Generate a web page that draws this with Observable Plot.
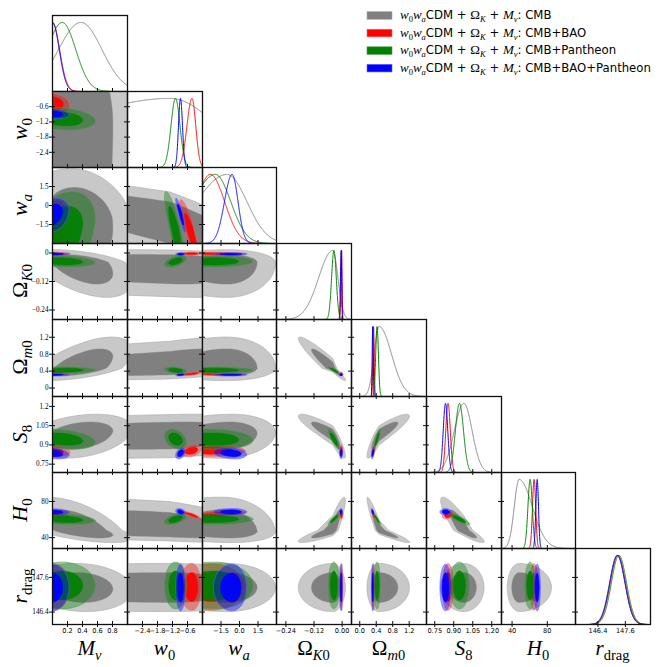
<!DOCTYPE html>
<html><head><meta charset="utf-8">
<script src="https://cdn.jsdelivr.net/npm/d3@7"></script>
<script src="https://cdn.jsdelivr.net/npm/@observablehq/plot@0.6"></script>
<style>
body{margin:0;background:#fff;}
#chart{position:relative;width:665px;height:667px;overflow:hidden;background:#fff;}
</style></head><body><div id="chart"></div>
<script>
// ---------------- data ----------------
const paramNames = ["Mnu","w0","wa","OmegaK0","Omegam0","S8","H0","rdrag"];
// axis ranges (columns use x, rows use y)
const xLo = [0, -3, -3, -0.28, -0.2, 0.685, 28, 145.42];
const xHi = [1, 0, 3, 0.04, 1.62, 1.277, 112, 148.7];
const yLo = [0, -3, -3, -0.28, -0.2, 0.685, 28, 145.97];
const yHi = [1, 0, 3, 0.04, 1.62, 1.277, 112, 148.6];
const tickValues = [[0.2,0.4,0.6,0.8],[-2.4,-1.8,-1.2,-0.6],[-1.5,0,1.5],[-0.24,-0.12,0],[0,0.4,0.8,1.2],[0.75,0.9,1.05,1.2],[40,80],[146.4,147.6]];
const xTickLabels = [["0.2","0.4","0.6","0.8"],["−2.4","−1.8","−1.2","−0.6"],["−1.5","0.0","1.5"],["−0.24","−0.12","0.00"],["0.0","0.4","0.8","1.2"],["0.75","0.90","1.05","1.20"],["40","80"],["146.4","147.6"]];
const yTickLabels = [null,["−2.4","−1.8","−1.2","−0.6"],["−1.5","0","1.5"],["−0.24","−0.12","0"],["0","0.4","0.8","1.2"],["0.75","0.9","1.05","1.2"],["40","80"],["146.4","147.6"]];

const datasetNames = ["CMB","CMB+BAO","CMB+Pantheon","CMB+BAO+Pantheon"];
// posterior summaries: peak, lower-side width, upper-side width (order of paramNames)
const cmbMean  = [0.38, -1.3, -1.0, -0.04, 0.47, 0.98, 48, 147.25];
const cmbSigLo = [0.30, 4.5, 2.5, 0.06, 0.12, 0.075, 5.5, 0.34];
const cmbSigHi = [0.28, 1.9, 1.6, 0.022, 0.30, 0.065, 15, 0.34];
const baoMean  = [0.0, -0.42, -2.36, -0.002, 0.335, 0.855, 65, 147.27];
const baoSigLo = [0.095, 0.2, 1.15, 0.003, 0.016, 0.018, 1.8, 0.33];
const baoSigHi = [0.095, 0.15, 1.15, 0.002, 0.016, 0.018, 1.8, 0.33];
const panMean  = [0.13, -1.08, -1.96, -0.035, 0.42, 0.945, 60.5, 147.32];
const panSigLo = [0.2, 0.18, 1.8, 0.01, 0.033, 0.032, 2.5, 0.33];
const panSigHi = [0.18, 0.18, 1.25, 0.01, 0.033, 0.032, 2.5, 0.33];
const allMean  = [0.0, -0.88, -0.6, -0.004, 0.315, 0.835, 68.5, 147.25];
const allSigLo = [0.09, 0.08, 0.62, 0.003, 0.013, 0.018, 1.5, 0.33];
const allSigHi = [0.09, 0.08, 0.48, 0.002, 0.013, 0.018, 1.5, 0.33];
// correlations, pairs (i<j) in row-major order
const cmbCorr = [0.0,-0.2,-0.5,0.6,0.3,-0.6,-0.1,  -0.85,-0.2,0.5,0.2,-0.5,0.0,  0.0,0.0,0.1,-0.1,0.0,  -0.95,-0.9,0.9,0.0,  0.9,-0.95,0.0,  -0.9,0.0,  0.0];
const baoCorr = [-0.3,0.2,0.0,0.0,-0.3,-0.3,0.0,  -0.9,0.0,0.7,0.3,-0.9,0.0,  0.0,-0.5,0.0,0.6,0.0,  -0.3,-0.2,0.3,0.0,  0.5,-0.9,0.0,  0.3,0.0,  0.0];
const panCorr = [-0.2,0.3,-0.2,0.1,-0.3,-0.3,0.0,  -0.85,0.5,-0.3,-0.3,0.5,0.0,  0.0,0.0,-0.1,0.0,0.0,  -0.9,-0.85,0.9,0.0,  0.9,-0.95,0.0,  -0.85,0.0,  0.0];
const allCorr = [-0.2,0.2,0.0,0.0,-0.3,-0.2,0.0,  -0.9,0.0,0.3,0.4,-0.3,0.0,  0.0,0.0,-0.2,0.0,0.0,  0.0,0.0,0.0,0.0,  0.5,-0.7,0.0,  0.0,0.0,  0.0];

// styles
const lineColors  = ["#808080","#ff0000","#008000","#0000ff"];
const lightFill   = ["#c8c8c8","#ff0000","#008000","#0000ff"];
const lightOpac   = [1, 0.36, 0.38, 0.40];
const darkFill    = ["#808080","#ff0000","#008000","#0000ff"];
const darkOpac    = [1, 0.92, 0.92, 0.92];
const edgeColors  = ["#a8a8a8","#ff6060","#4da04d","#6060ff"];

const datasets = [
  {mean: cmbMean, lo: cmbSigLo, hi: cmbSigHi, corr: cmbCorr},
  {mean: baoMean, lo: baoSigLo, hi: baoSigHi, corr: baoCorr},
  {mean: panMean, lo: panSigLo, hi: panSigHi, corr: panCorr},
  {mean: allMean, lo: allSigLo, hi: allSigHi, corr: allCorr}
];

// ---------------- layout ----------------
const N = 8;
const X0 = 52, PW = 74.75, Y0 = 15, PH = 76.1;
const edgeX = i => Math.round(X0 + i * PW);
const edgeY = i => Math.round(Y0 + i * PH);
const K68 = 1.515, K95 = 2.448;

function pairIdx(i, j) { let idx = 0; for (let k = 0; k < i; k++) idx += N - 1 - k; return idx + (j - i - 1); }

function contour(ds, i, j, k) {
  const rho = ds.corr[pairIdx(i, j)];
  const s = Math.sqrt(1 - rho * rho);
  return d3.range(180).map(t => {
    const a = 2 * Math.PI * t / 180;
    const u = k * Math.cos(a), v = k * (rho * Math.cos(a) + s * Math.sin(a));
    return {x: ds.mean[i] + u * (u < 0 ? ds.lo[i] : ds.hi[i]),
            y: ds.mean[j] + v * (v < 0 ? ds.lo[j] : ds.hi[j])};
  });
}
function marginal(ds, i) {
  const lo = xLo[i], hi = xHi[i], M = 900;
  return d3.range(M + 1).map(s => {
    const x = lo + (hi - lo) * s / M, d = x - ds.mean[i];
    const sg = d < 0 ? ds.lo[i] : ds.hi[i];
    return {x, y: Math.exp(-0.5 * (d / sg) ** 2)};
  });
}

const chart = document.getElementById("chart");
for (let r = 0; r < N; r++) for (let c = 0; c <= r; c++) {
  const left = edgeX(c), top = edgeY(r), W = edgeX(c + 1) - left, H = edgeY(r + 1) - top;
  const marks = [];
  let ydom;
  if (r === c) {
    ydom = [0, 1.1];
    datasets.forEach((ds, k) => marks.push(Plot.line(marginal(ds, c), {x: "x", y: "y", stroke: lineColors[k], strokeWidth: 1, clip: true})));
    if (r > 0) marks.push(Plot.tickY(tickValues[r], {y: d => (d - yLo[r]) / (yHi[r] - yLo[r]) * 1.1, insetLeft: -3, insetRight: W - 3, stroke: "#111"}));
  } else {
    ydom = [yLo[r], yHi[r]];
    datasets.forEach((ds, k) => {
      marks.push(Plot.line(contour(ds, c, r, K95), {x: "x", y: "y", curve: "linear-closed", fill: lightFill[k], fillOpacity: lightOpac[k], stroke: edgeColors[k], strokeWidth: 0.6, clip: true}));
      marks.push(Plot.line(contour(ds, c, r, K68), {x: "x", y: "y", curve: "linear-closed", fill: darkFill[k], fillOpacity: darkOpac[k], stroke: darkFill[k], strokeWidth: 0.4, clip: true}));
    });
    marks.push(Plot.tickY(tickValues[r], {y: d => d, insetLeft: -3, insetRight: W - 3, stroke: "#111"}));
  }
  marks.push(Plot.tickX(tickValues[c], {x: d => d, insetTop: H - 3, insetBottom: -3, stroke: "#111"}));
  marks.push(Plot.frame({stroke: "#111", strokeWidth: 1.3}));
  if (r === N - 1) marks.push(Plot.axisX(tickValues[c], {anchor: "bottom", tickSize: 0, tickPadding: 4, label: null,
      tickFormat: d => xTickLabels[c][tickValues[c].indexOf(d)], fontSize: 6.6, fontFamily: "DejaVu Sans"}));
  if (c === 0 && r > 0) marks.push(Plot.axisY(tickValues[r], {anchor: "left", tickSize: 0, tickPadding: 4, label: null,
      tickFormat: d => yTickLabels[r][tickValues[r].indexOf(d)], fontSize: 7.2, fontFamily: "Liberation Serif"}));
  const svg = Plot.plot({
    width: W, height: H, margin: 0,
    x: {domain: [xLo[c], xHi[c]], axis: null},
    y: {domain: ydom, axis: null},
    style: {overflow: "visible", background: "transparent"},
    marks
  });
  svg.style.position = "absolute";
  svg.style.left = left + "px";
  svg.style.top = top + "px";
  svg.style.maxWidth = "none";
  chart.appendChild(svg);
}

// ---------------- axis titles & legend ----------------
const serif = "Liberation Serif", sans = "DejaVu Sans";
const axisTitles = [
  [["M",1],["ν",1,1]],
  [["w",1],["0",0,1]],
  [["w",1],["a",1,1]],
  [["Ω",0],["K",1,1],["0",0,1]],
  [["Ω",0],["m",1,1],["0",0,1]],
  [["S",1],["8",0,1]],
  [["H",1],["0",0,1]],
  [["r",1],["drag",0,1]]
];
const over = d3.select(chart).append("svg").attr("width", 665).attr("height", 667)
  .style("position", "absolute").style("left", "0px").style("top", "0px").style("pointer-events", "none");

function richText(sel, parts, size, subSize, shift) {
  let down = false;
  parts.forEach(([s, it, sub, fam, sz]) => {
    const ts = sel.append("tspan").text(s).attr("font-family", fam || serif).attr("font-size", sub ? subSize : (sz || size));
    if (it) ts.attr("font-style", "italic");
    if (sub && !down) { ts.attr("dy", shift); down = true; }
    else if (!sub && down) { ts.attr("dy", -shift); down = false; }
  });
}
for (let c = 0; c < N; c++) {
  const t = over.append("text").attr("x", (edgeX(c) + edgeX(c + 1)) / 2).attr("y", 655).attr("text-anchor", "middle");
  richText(t, axisTitles[c], 21, 14.5, 5);
}
for (let r = 1; r < N; r++) {
  const cy = (edgeY(r) + edgeY(r + 1)) / 2;
  const t = over.append("text").attr("x", 27).attr("y", cy).attr("text-anchor", "middle").attr("transform", `rotate(-90,27,${cy})`);
  richText(t, axisTitles[r], 22, 15, 5);
}
datasetNames.forEach((name, k) => {
  const base = 19.3 + k * 17.55;
  over.append("rect").attr("x", 367).attr("y", base - 7.6).attr("width", 25).attr("height", 7.6)
    .attr("fill", darkFill[k]).attr("stroke", edgeColors[k]).attr("stroke-width", 0.6);
  const t = over.append("text").attr("x", 400).attr("y", base);
  richText(t, [["w",1],["0",0,1],["w",1],["a",1,1],["CDM",0,0,sans,11.7],["  +  ",0,0,sans,11.7],["Ω",0,0,serif,13],["K",1,1],["  +  ",0,0,sans,11.7],["M",1,0,serif,13],["ν",1,1],[": " + name,0,0,sans,11.7]], 13, 8.5, 2.8);
});
</script></body></html>
